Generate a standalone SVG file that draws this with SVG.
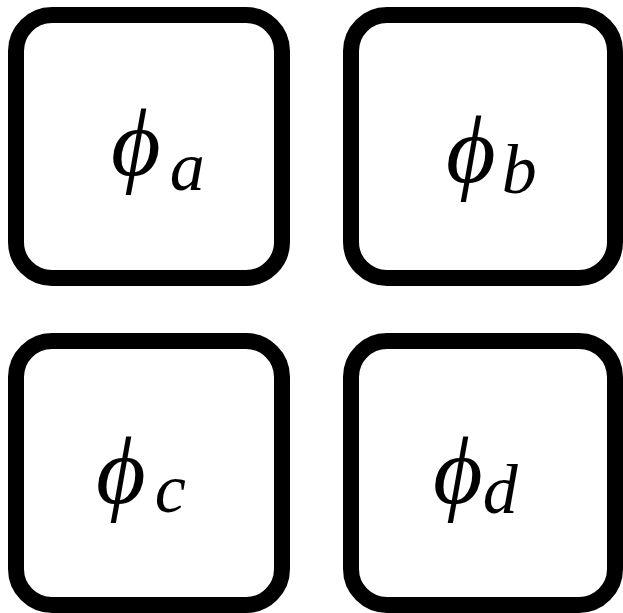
<svg xmlns="http://www.w3.org/2000/svg" width="623" height="613" viewBox="0 0 623 613">
<style>
.box{fill:#fff;stroke:#000;stroke-width:16}
.lbl{font-family:"Liberation Serif","DejaVu Serif",serif;font-style:italic;font-size:96px;fill:#000}
.sub{font-size:70px}
</style>
<rect width="623" height="613" fill="#fff"/>
<g id="node-a"><rect class="box" x="16" y="15" width="266" height="263" rx="36"/><text class="lbl" x="111" y="175">ϕ<tspan class="sub" dx="9" dy="15">a</tspan></text></g>
<g id="node-b"><rect class="box" x="351" y="15" width="264" height="263" rx="36"/><text class="lbl" x="446" y="182">ϕ<tspan class="sub" dx="6" dy="11">b</tspan></text></g>
<g id="node-c"><rect class="box" x="16" y="341" width="266" height="264" rx="36"/><text class="lbl" x="96" y="503">ϕ<tspan class="sub" dx="9" dy="9">c</tspan></text></g>
<g id="node-d"><rect class="box" x="351" y="341" width="264" height="264" rx="36"/><text class="lbl" x="433" y="503">ϕ<tspan class="sub" dx="0" dy="10">d</tspan></text></g>
<g id="connectors"></g>
</svg>
